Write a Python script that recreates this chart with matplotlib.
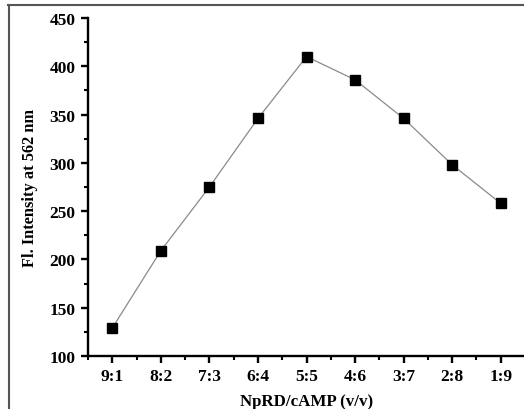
import matplotlib
matplotlib.use("Agg")
import matplotlib.pyplot as plt
from matplotlib.lines import Line2D
from matplotlib.ticker import MultipleLocator

categories = ["9:1", "8:2", "7:3", "6:4", "5:5", "4:6", "3:7", "2:8", "1:9"]
intensity = [129, 209, 275, 346, 410, 386, 346, 298, 258]

plt.rcParams['font.family'] = ['Liberation Serif', 'DejaVu Serif']
plt.rcParams['font.weight'] = 'bold'

fig = plt.figure(figsize=(5.24, 4.10), dpi=100)
ax = fig.add_axes([88/524, 1-357/410, 1-88/524 + 0.002, (357-19)/410])

x = list(range(len(categories)))
ax.plot(x, intensity, color='#8a8a8a', lw=0.9, marker='s', markersize=7,
        markerfacecolor='black', markeredgecolor='black', zorder=3)

ax.set_xlim(-0.5, 8.5)
ax.set_ylim(100, 450)
ax.set_xticks(x)
ax.set_xticklabels(categories)
ax.xaxis.set_minor_locator(MultipleLocator(0.5))
ax.yaxis.set_major_locator(MultipleLocator(50))
ax.yaxis.set_minor_locator(MultipleLocator(25))

for s in ['top', 'right']:
    ax.spines[s].set_visible(False)
for s in ['left', 'bottom']:
    ax.spines[s].set_linewidth(1.7)

ax.tick_params(which='major', direction='out', length=5, width=1.7, labelsize=12.5, pad=4)
ax.tick_params(which='minor', direction='out', length=3, width=1.5)
for lab in ax.get_xticklabels() + ax.get_yticklabels():
    lab.set_fontweight('bold')

ax.set_xlabel("NpRD/cAMP (v/v)", fontsize=12.2, fontweight='bold', labelpad=6)
ax.set_ylabel("Fl. Intensity at 562 nm", fontsize=11.8, fontweight='bold', labelpad=8)

# outer frame (top and left edges visible)
fig.add_artist(Line2D([8/524, 1], [1-5.5/410, 1-5.5/410], transform=fig.transFigure, color='#555555', lw=1.5))
fig.add_artist(Line2D([8.5/524, 8.5/524], [0, 1-5.5/410], transform=fig.transFigure, color='#555555', lw=1.5))

fig.savefig("out.png", dpi=100)
